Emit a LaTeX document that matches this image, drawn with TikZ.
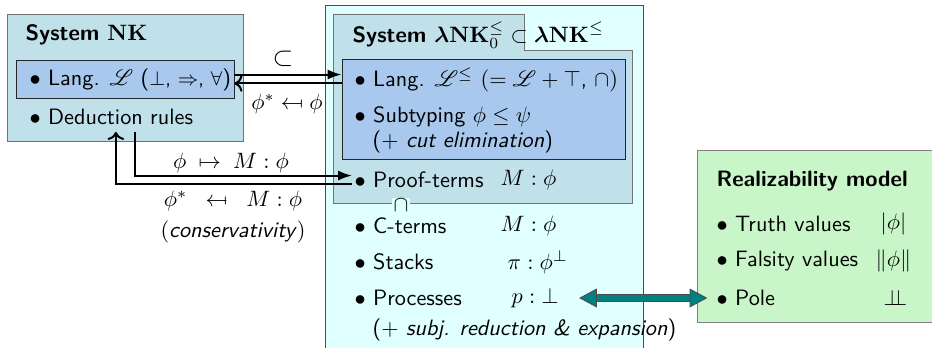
\documentclass[tikz,border=0pt]{standalone}
\usepackage{amsmath,amssymb}
\usepackage{mathrsfs}
\usepackage{stmaryrd}
\usetikzlibrary{positioning,arrows.meta,fit}
\definecolor{nkfill}{RGB}{192,224,234}
\definecolor{langfill}{RGB}{168,200,238}
\definecolor{bigfill}{RGB}{224,255,255}
\definecolor{realfill}{RGB}{200,246,200}
\definecolor{poleteal}{RGB}{0,128,128}
\tikzset{
  sysbox/.style={draw=gray!90!black, fill=nkfill},
  langbox/.style={draw=black!85, fill=langfill, inner sep=0pt},
  realbox/.style={draw=gray, fill=realfill, inner sep=0pt},
  entry/.style={anchor=west, inner sep=1pt, font=\sffamily},
  systitle/.style={anchor=west, inner sep=1pt, font=\sffamily\bfseries},
  lbl/.style={inner sep=1pt},
  link/.style={line width=0.9pt, -{Latex[length=2.2mm, width=1.6mm]}},
  polearrow/.style={draw=black!70, line width=0.4pt, double=poleteal, double distance=2.6pt,
    {Triangle[length=8pt, width=8.5pt, fill=poleteal]}-{Triangle[length=8pt, width=8.5pt, fill=poleteal]}}
}

\begin{document}
\begin{tikzpicture}[x=0.45pt, y=-0.45pt]
  \useasboundingbox (0,0) rectangle (932,348);

  % System lambda NK (outer, open at the bottom)
  \fill[bigfill] (325,5) rectangle (643,348);
  \draw[black!70] (325,349) -- (325,5) -- (643,5) -- (643,349);

  % System lambda NK_0 (notched box)
  \draw[sysbox] (333,14) -- (524,14) -- (524,50) -- (632,50) -- (632,203) -- (333,203) -- cycle;
  \node[lbl, fill=bigfill, inner sep=0.5pt] (capsym) at (401,205) {$\cap$};
  \node[langbox, fit={(342,59) (625,159)}] (langL) {};

  % System NK
  \node[sysbox, inner sep=0pt, fit={(7,14) (243,141)}] (nk) {};
  \node[langbox, fit={(16,60) (234,98)}] (langNK) {};

  \node[systitle] (nktitle) at (23,35) {System $\mathbf{NK}$};
  \node[entry] (langNKt) at (27,80) {$\bullet$ Lang. $\mathscr{L}$ ({\small$\bot$, $\Rightarrow$, $\forall$})};
  \node[entry] (ded) at (27,117) {$\bullet$ Deduction rules};

  % entries of lambda NK
  \node[systitle] (ltitle) at (350,35) {System $\boldsymbol{\lambda}\mathbf{NK}_0^{\le} \subset \boldsymbol{\lambda}\mathbf{NK}^{\le}$};
  \node[entry] (langLt) at (352,80) {$\bullet$ Lang. $\mathscr{L}^{\le}$ $(= \mathscr{L} + \top$, $\cap)$};
  \node[entry] (sub) at (352,117) {$\bullet$ Subtyping $\phi \le \psi$};
  \node[entry] (cut) at (370,142) {($+$ \textit{cut elimination})};
  \node[entry] (proof) at (352,180) {$\bullet$ Proof-terms};
  \node[entry] (proofty) at (498,180) {$M : \phi$};
  \node[entry] (cterm) at (352,226) {$\bullet$ C-terms};
  \node[entry] (ctermty) at (498,226) {$M : \phi$};
  \node[entry] (stack) at (352,262) {$\bullet$ Stacks};
  \node[entry] (stackty) at (505,262) {$\pi : \phi^{\perp}$};
  \node[entry] (proc) at (352,298) {$\bullet$ Processes};
  \node[entry] (procty) at (509,298) {$p : \bot$};
  \node[entry] (subj) at (370,330) {($+$ \textit{subj. reduction \& expansion})};

  % Realizability model
  \node[realbox, fit={(697,150) (934,322)}] (real) {};
  \node[systitle] (rtitle) at (714,181) {Realizability model};
  \node[entry] (truth) at (714,224) {$\bullet$ Truth values};
  \node[entry] (truthv) at (878,224) {$|\phi|$};
  \node[entry] (fals) at (714,261) {$\bullet$ Falsity values};
  \node[entry] (falsv) at (873,261) {$\|\phi\|$};
  \node[entry] (pole) at (714,298) {$\bullet$ Pole};
  \node[entry] (polev) at (881,298) {$\perp\!\!\!\perp$};

  % connectors between the languages
  \draw[link] ([yshift=2pt]langNK.east) -- ([yshift=2pt]langNK.east -| langL.west);
  \draw[link, <-] ([yshift=-2pt]langNK.east) -- ([yshift=-2pt]langNK.east -| langL.west);
  \node[lbl, font=\large] (incl) at (283,59) {$\subset$};
  \node[lbl] (starl) at (287,104) {$\phi^* \mapsfrom \phi$};

  % translation of proofs and back
  \draw[link] ([xshift=48.5pt, yshift=-2pt]ded.south west) |- ([yshift=2pt]proof.west);
  \draw[link, <-] ([xshift=40pt, yshift=-2pt]ded.south west) |- ([yshift=-2pt]proof.west);
  \node[lbl] (tolam) at (231,163) {$\phi \;\mapsto\; M : \phi$};
  \node[lbl] (fromlam) at (233,201) {$\phi^* \;\;\mapsfrom\;\; M : \phi$};
  \node[lbl, below=2pt of fromlam] (cons) {(\textit{\sffamily conservativity})};

  % processes and pole
  \draw[polearrow, shorten <=8pt, shorten >=3pt] (procty.east) -- (pole.west);
\end{tikzpicture}
\end{document}
